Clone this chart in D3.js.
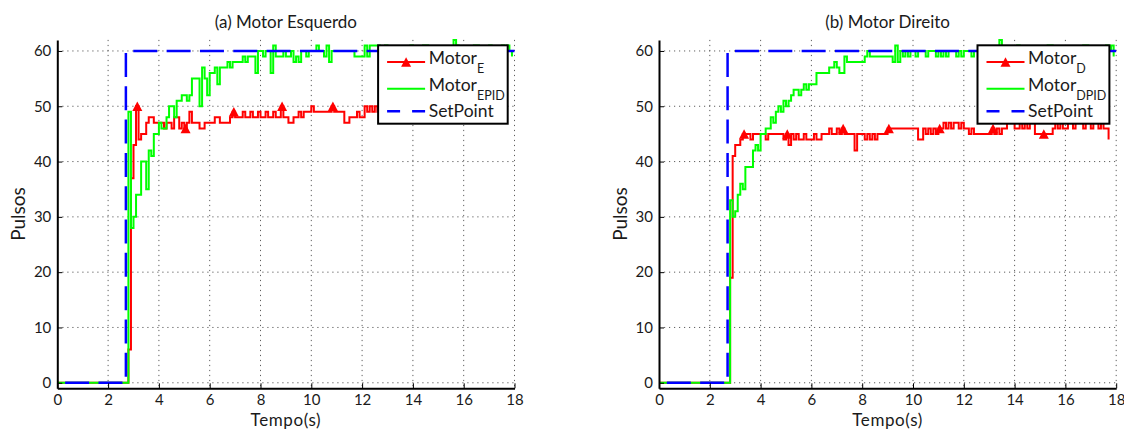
<!DOCTYPE html>
<html>
<head>
<meta charset="utf-8">
<script src="https://cdn.jsdelivr.net/npm/d3@7"></script>
<style>
  html, body { margin: 0; padding: 0; background: #fff; }
  svg { display: block; }
  text { font-family: Lato, "Open Sans", sans-serif; fill: #1a1a1a; }
</style>
</head>
<body>
<svg id="chart" width="1124" height="429"></svg>
<script>
// Time base of the logged encoder samples (seconds)
const sampleStart = 2.7;
const sampleStep = 0.1;

const xTicks = [0, 2, 4, 6, 8, 10, 12, 14, 16, 18];
const yTicks = [0, 10, 20, 30, 40, 50, 60];

// Set point: idle, then a step to 60 pulses
const setPointTimes = [0, 2.7, 18];
const setPointValues = [0, 60, 60];

// Left motor, open loop (pulses per sample, from t = 2.7 s)
const motorE = [
  0, 6, 37, 43, 50, 44, 45, 45, 47, 48,
  48, 47, 47, 47, 47, 46, 47, 47, 46, 48,
  48, 46, 47, 46, 47, 49, 47, 47, 47, 46,
  46, 47, 47, 47, 47, 48, 48, 47, 47, 47,
  47, 48, 49, 48, 48, 48, 49, 48, 48, 49,
  48, 48, 49, 48, 48, 49, 48, 48, 49, 48,
  48, 50, 48, 48, 47, 47, 48, 48, 49, 48,
  49, 49, 49, 50, 49, 49, 49, 49, 49, 49,
  49, 50, 49, 49, 49, 49, 47, 47, 48, 48,
  48, 49, 48, 48, 50, 49, 50, 49, 50, 49,
  50, 49, 50, 49, 49, 50, 49, 49, 50, 49,
  49, 49, 50, 49, 49, 50, 49, 49, 49, 50,
  49, 49, 49, 50, 49, 49, 49, 50, 49, 49,
  49, 50, 49, 49, 49, 50, 49, 49, 49, 50,
  49, 49, 49, 50, 49, 49, 49, 50, 49, 49,
  49
];
// Left motor with PID
const motorEPID = [
  0, 49, 28, 30, 34, 34, 40, 40, 35, 42,
  41, 45, 45, 47, 46, 46, 48, 50, 50, 48,
  51, 51, 52, 52, 51, 52, 55, 55, 55, 50,
  57, 55, 52, 56, 56, 57, 54, 57, 57, 57,
  58, 57, 58, 58, 58, 58, 59, 58, 59, 59,
  59, 56, 60, 60, 59, 60, 60, 56, 61, 59,
  59, 59, 60, 59, 59, 60, 58, 59, 58, 60,
  60, 59, 60, 60, 60, 61, 60, 60, 59, 61,
  58, 60, 60, 60, 60, 60, 60, 60, 60, 60,
  59, 59, 59, 59, 61, 59, 61, 61, 61, 61,
  60, 60, 61, 60, 60, 59, 60, 60, 60, 60,
  60, 60, 61, 60, 60, 59, 60, 61, 61, 60,
  60, 59, 60, 60, 60, 59, 60, 60, 60, 62,
  61, 60, 60, 60, 59, 60, 60, 61, 61, 60,
  60, 60, 59, 61, 60, 60, 60, 60, 61, 60,
  61, 60, 59
];
const motorEMarkers = [4, 23, 42, 61, 81];

// Right motor, open loop
const motorD = [
  0, 19, 41, 43, 43, 44, 45, 45, 45, 44,
  45, 45, 45, 45, 45, 44, 45, 45, 45, 45,
  45, 45, 44, 45, 43, 45, 44, 45, 44, 44,
  45, 44, 44, 44, 45, 44, 44, 45, 45, 45,
  46, 45, 45, 46, 45, 46, 45, 45, 45, 45,
  42, 45, 45, 45, 44, 45, 44, 45, 44, 45,
  45, 45, 45, 46, 46, 46, 46, 46, 46, 46,
  46, 46, 46, 46, 46, 44, 44, 46, 45, 46,
  45, 46, 45, 46, 46, 47, 46, 47, 46, 47,
  47, 46, 47, 46, 46, 45, 46, 45, 45, 45,
  45, 45, 45, 45, 46, 45, 46, 45, 46, 46,
  47, 47, 47, 46, 46, 47, 46, 47, 46, 47,
  47, 45, 45, 45, 45, 45, 45, 45, 46, 47,
  46, 47, 46, 46, 47, 47, 46, 47, 47, 47,
  46, 47, 47, 46, 47, 47, 46, 47, 46, 46,
  44
];
// Right motor with PID
const motorDPID = [
  0, 33, 30, 31, 34, 36, 35, 39, 39, 39,
  42, 43, 42, 45, 45, 46, 46, 48, 47, 49,
  50, 49, 51, 50, 51, 52, 53, 53, 52, 53,
  54, 53, 54, 54, 54, 56, 56, 56, 56, 56,
  57, 57, 58, 57, 56, 56, 59, 58, 58, 58,
  58, 58, 58, 58, 59, 60, 59, 59, 59, 59,
  59, 59, 59, 59, 59, 58, 61, 58, 60, 59,
  60, 59, 60, 60, 59, 60, 60, 60, 59, 60,
  60, 60, 59, 60, 59, 60, 59, 60, 60, 60,
  59, 60, 59, 60, 60, 60, 59, 60, 60, 59,
  60, 60, 60, 59, 60, 60, 60, 62, 60, 60,
  59, 60, 60, 60, 61, 60, 60, 59, 60, 60,
  60, 60, 59, 60, 60, 60, 61, 61, 60, 60,
  59, 60, 60, 60, 60, 59, 60, 60, 60, 60,
  61, 61, 60, 60, 60, 59, 60, 60, 60, 61,
  60, 61, 59
];
const motorDMarkers = [6, 23, 45, 63, 83, 104, 124];

const colors = { motor: "#ff0000", pid: "#00ff00", setPoint: "#0000ff" };

const svg = d3.select("#chart");
const plotTop = 39.9, plotBottom = 388.3;

const panels = [
  { title: "(a) Motor Esquerdo", left: 57.3, right: 514.5,
    motor: motorE, pid: motorEPID, markers: motorEMarkers, sub: "E", subPid: "EPID" },
  { title: "(b) Motor Direito", left: 659, right: 1116.2,
    motor: motorD, pid: motorDPID, markers: motorDMarkers, sub: "D", subPid: "DPID" }
];

// Upward triangle centred on its bounding box
const triangle = {
  draw(ctx, size) {
    const w = Math.sqrt(size), h = w * 0.95;
    ctx.moveTo(0, -h / 2);
    ctx.lineTo(w / 2, h / 2);
    ctx.lineTo(-w / 2, h / 2);
    ctx.closePath();
  }
};
const markerPath = d3.symbol().type(triangle).size(100)();

// First reading (motor idle) is held from the start of the log
const toPoints = vals => vals.map((v, i) => ({ t: i === 0 ? 0 : sampleStart + i * sampleStep, v }));

panels.forEach(p => {
  const x = d3.scaleLinear().domain([0, 18]).range([p.left, p.right]);
  const y = d3.scaleLinear().domain([-1, 62]).range([plotBottom, plotTop]);
  const g = svg.append("g");

  // dotted grid
  const grid = g.append("g").attr("stroke", "#444").attr("stroke-width", 1)
    .attr("stroke-dasharray", "1.2,3.8").attr("opacity", 0.85);
  grid.selectAll(".gx").data(xTicks.filter(d => d > 0)).join("line")
    .attr("x1", d => x(d)).attr("x2", d => x(d))
    .attr("y1", plotTop).attr("y2", plotBottom);
  grid.selectAll(".gy").data(yTicks).join("line")
    .attr("x1", p.left).attr("x2", p.right)
    .attr("y1", d => y(d)).attr("y2", d => y(d));

  const line = d3.line().x(d => x(d.t)).y(d => y(d.v)).curve(d3.curveStepAfter);

  const motorPts = toPoints(p.motor);
  g.append("path").attr("d", line(motorPts)).attr("fill", "none")
    .attr("stroke", colors.motor).attr("stroke-width", 2).attr("stroke-linejoin", "miter");
  g.append("g").selectAll("path").data(p.markers).join("path")
    .attr("d", markerPath).attr("fill", colors.motor)
    .attr("transform", i => `translate(${x(motorPts[i].t + sampleStep / 2)},${y(motorPts[i].v)})`);

  g.append("path").attr("d", line(toPoints(p.pid))).attr("fill", "none")
    .attr("stroke", colors.pid).attr("stroke-width", 2);

  const sp = setPointTimes.map((t, i) => ({ t, v: setPointValues[i] }));
  g.append("path").attr("d", line(sp)).attr("fill", "none")
    .attr("stroke", colors.setPoint).attr("stroke-width", 2.5)
    .attr("stroke-dasharray", "24,9.33").attr("stroke-dashoffset", 25.5);

  // axes
  const xAxis = g.append("g").attr("transform", `translate(0,${plotBottom})`)
    .call(d3.axisBottom(x).tickValues(xTicks).tickSize(-5).tickSizeOuter(0).tickPadding(6));
  const yAxis = g.append("g").attr("transform", `translate(${p.left},0)`)
    .call(d3.axisLeft(y).tickValues(yTicks).tickSize(-5).tickSizeOuter(0).tickPadding(6));
  [xAxis, yAxis].forEach(a => {
    a.select(".domain").attr("stroke", "#000").attr("stroke-width", 2);
    a.selectAll(".tick line").attr("stroke", "#000").attr("stroke-width", 1);
    a.selectAll("text").attr("font-size", 15).attr("fill", "#1a1a1a")
      .style("font-family", "Lato, 'Open Sans', sans-serif");
  });

  const cx = (p.left + p.right) / 2;
  g.append("text").attr("x", cx).attr("y", 28).attr("text-anchor", "middle")
    .attr("font-size", 17).text(p.title);
  g.append("text").attr("x", cx).attr("y", 426).attr("text-anchor", "middle")
    .attr("font-size", 17).attr("letter-spacing", 0.6).text("Tempo(s)");
  g.append("text").attr("transform", `translate(${p.left - 32},214) rotate(-90)`)
    .attr("text-anchor", "middle").attr("font-size", 19).text("Pulsos");

  // legend
  const lg = g.append("g");
  const box = lg.append("rect").attr("fill", "#fff").attr("stroke", "#000").attr("stroke-width", 2);
  const rows = [16.7, 43.4, 66];
  const sx0 = 9, sx1 = 47, tx = 50.6;
  lg.append("line").attr("x1", sx0).attr("x2", sx1).attr("y1", rows[0]).attr("y2", rows[0])
    .attr("stroke", colors.motor).attr("stroke-width", 2);
  lg.append("path").attr("d", markerPath).attr("fill", colors.motor)
    .attr("transform", `translate(${(sx0 + sx1) / 2},${rows[0]})`);
  lg.append("line").attr("x1", sx0).attr("x2", sx1).attr("y1", rows[1]).attr("y2", rows[1])
    .attr("stroke", colors.pid).attr("stroke-width", 2);
  lg.append("line").attr("x1", sx0).attr("x2", sx1).attr("y1", rows[2]).attr("y2", rows[2])
    .attr("stroke", colors.setPoint).attr("stroke-width", 2.5).attr("stroke-dasharray", "13,12");

  const labels = [];
  const t1 = lg.append("text").attr("x", tx).attr("y", rows[0] + 2).attr("font-size", 17.5);
  t1.append("tspan").text("Motor");
  t1.append("tspan").attr("font-size", 12.5).attr("dy", 9).text(p.sub);
  const t2 = lg.append("text").attr("x", tx).attr("y", rows[1] + 2).attr("font-size", 17.5);
  t2.append("tspan").text("Motor");
  t2.append("tspan").attr("font-size", 12.5).attr("dy", 9).text(p.subPid);
  const t3 = lg.append("text").attr("x", tx).attr("y", rows[2] + 6).attr("font-size", 17.5).text("SetPoint");
  labels.push(t1, t2, t3);
  const textW = d3.max(labels, t => t.node().getComputedTextLength());
  const w = tx + textW + 3, h = 78.4;
  box.attr("x", 0).attr("y", 0).attr("width", w).attr("height", h);
  lg.attr("transform", `translate(${p.right - 6.8 - w},${plotTop + 5.4})`);
});
</script>
</body>
</html>
